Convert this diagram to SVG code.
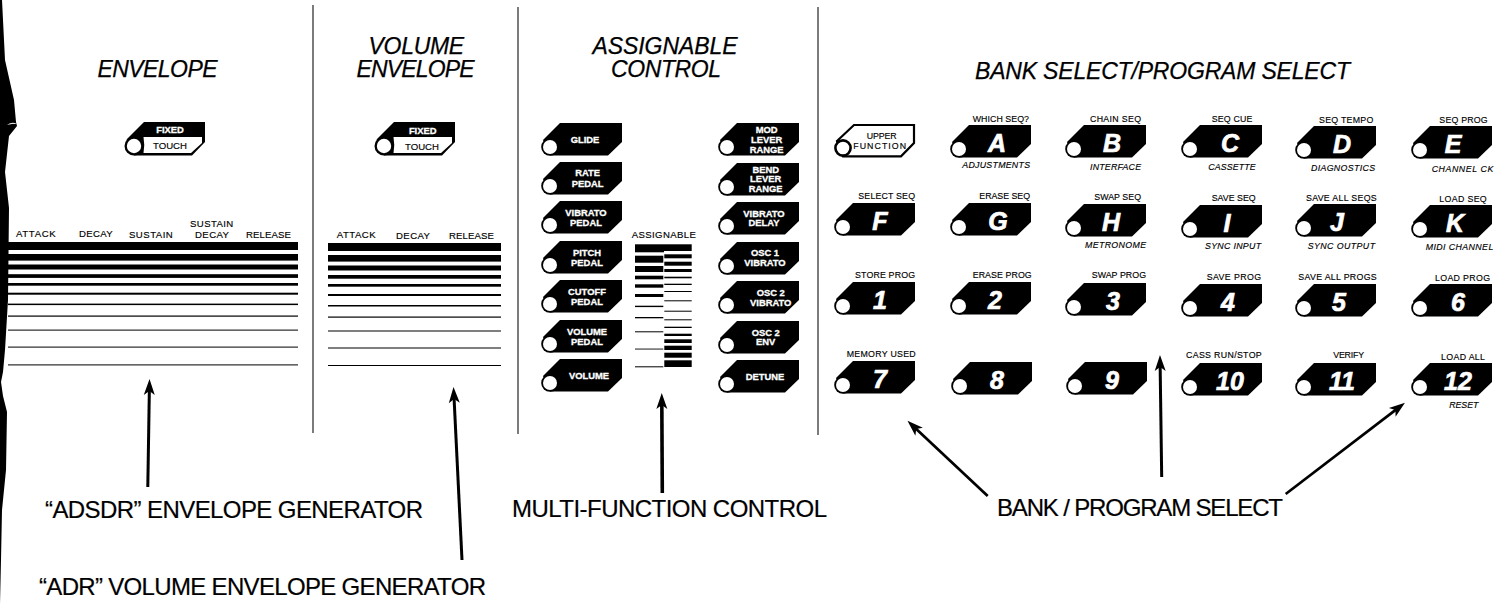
<svg xmlns="http://www.w3.org/2000/svg" width="1507" height="604" viewBox="0 0 1507 604">
<style>
text{font-family:"Liberation Sans",Arial,sans-serif;fill:#000}
.h{font-size:23px;font-style:italic;stroke:#000;stroke-width:.25}
.c{font-size:24px;stroke:#000;stroke-width:.2}
.s{font-size:8.8px;stroke:#000;stroke-width:.15}
.si{font-size:8.8px;font-style:italic;stroke:#000;stroke-width:.15}
.e{font-size:9.6px;stroke:#000;stroke-width:.15}
.big{font-size:25px;font-weight:bold;font-style:italic;fill:#fff;stroke:#fff;stroke-width:.7;text-anchor:middle}
.w{font-size:9.4px;font-weight:bold;fill:#fff;stroke:#fff;stroke-width:.3;text-anchor:middle}
.b{fill:#000}
.div{stroke:#111;stroke-width:1.1;fill:none}
.arr{stroke:#000;fill:none;marker-end:url(#head)}
</style>
<defs>
<marker id="head" markerUnits="userSpaceOnUse" markerWidth="20" markerHeight="14" refX="9" refY="7" orient="auto">
<path d="M1,1.5L17,7L1,12.5L5,7Z" fill="#000"/>
</marker>
<g id="tag">
<path class="b" d="M-7,-7L10,-24L72,-24L72,-5L58,8.6L0,8.6Z"/>
<circle r="8.8" class="b"/><circle r="7" fill="#fff"/>
</g>
<g id="fixed">
<path class="b" d="M-7,-7L10,-24L71,-24L71,-4L58,9.5L0,9.5Z"/>
<circle r="9.5" class="b"/>
<path fill="#fff" d="M9.5,-9L68,-9L68,-3L57,7L9.5,7Q11,-1 9.5,-9Z"/>
<circle r="7.2" fill="#fff"/>
</g>
<g id="open">
<path d="M-6,-7L11,-23L71,-23L71,-5L58,8.3L0,8.3Z" fill="#fff" stroke="#000" stroke-width="2.2"/>
<circle r="7.6" fill="#fff" stroke="#000" stroke-width="2.6"/>
</g>
</defs>
<rect width="1507" height="604" fill="#fff"/>
<g id="edge">
<path class="b" d="M0,0L2,0L5,60L14,100L16,122L17,126L9,136L5,172L9,208L8,300L5,350L3,372L1,382L3,396L7,412L6,470L2,510L1,560L0,604Z"/>
<path d="M7,125Q12,121 17,124L12,124Z" fill="#ddd"/>
</g>
<g id="dividers">
<path class="div" d="M313,5V433M518,7V434M818,7V435"/>
</g>
<g id="headings">
<text class="h" x="97.5" y="77" textLength="120">ENVELOPE</text>
<text class="h" x="368.6" y="54" textLength="95.5">VOLUME</text>
<text class="h" x="356.6" y="77" textLength="118">ENVELOPE</text>
<text class="h" x="592.5" y="54" textLength="145">ASSIGNABLE</text>
<text class="h" x="611" y="77" textLength="110">CONTROL</text>
<text class="h" x="975" y="79" textLength="375">BANK SELECT/PROGRAM SELECT</text>
</g>
<g id="envelope-fixed-touch">
<use href="#fixed" x="134" y="146"/>
<text class="w" x="170" y="133.3">FIXED</text>
<text class="e" x="153" y="149" textLength="34">TOUCH</text>
</g>
<g id="volume-fixed-touch">
<use href="#fixed" x="384" y="146"/>
<text class="w" x="422.7" y="133.7">FIXED</text>
<text class="e" x="405" y="150" textLength="34">TOUCH</text>
</g>
<g id="envelope-sliders">
<text class="e" x="16" y="236.7" textLength="39.7">ATTACK</text>
<text class="e" x="79" y="237" textLength="33.7">DECAY</text>
<text class="e" x="129" y="237.6" textLength="43.7">SUSTAIN</text>
<text class="e" x="190" y="227" textLength="43.3">SUSTAIN</text>
<text class="e" x="195" y="238" textLength="34">DECAY</text>
<text class="e" x="246" y="238" textLength="45">RELEASE</text>
<rect class="b" x="8" y="242" width="290" height="8"/>
<rect class="b" x="8" y="254" width="290" height="6.6"/>
<rect class="b" x="8" y="264.5" width="290" height="5"/>
<rect class="b" x="8" y="274.2" width="290" height="3.7"/>
<rect class="b" x="8" y="283" width="290" height="2.7"/>
<rect class="b" x="8" y="292.7" width="290" height="2"/>
<rect class="b" x="8" y="303.6" width="290" height="1.5"/>
<rect class="b" x="8" y="315.5" width="290" height="1.2"/>
<rect class="b" x="8" y="329.6" width="290" height="1"/>
<rect class="b" x="8" y="346.6" width="290" height="1"/>
<rect class="b" x="8" y="364.4" width="290" height="1"/>
</g>
<g id="volume-sliders">
<text class="e" x="336.7" y="238" textLength="39">ATTACK</text>
<text class="e" x="396" y="239" textLength="34">DECAY</text>
<text class="e" x="449" y="239" textLength="45">RELEASE</text>
<rect class="b" x="328" y="243" width="173" height="8"/>
<rect class="b" x="328" y="255" width="173" height="6.6"/>
<rect class="b" x="328" y="265.5" width="173" height="5"/>
<rect class="b" x="328" y="275" width="173" height="3.7"/>
<rect class="b" x="328" y="284" width="173" height="2.7"/>
<rect class="b" x="328" y="294" width="173" height="2"/>
<rect class="b" x="328" y="305" width="173" height="1.5"/>
<rect class="b" x="328" y="316.5" width="173" height="1.2"/>
<rect class="b" x="328" y="330.5" width="173" height="1"/>
<rect class="b" x="328" y="347.5" width="173" height="1"/>
<rect class="b" x="328" y="365" width="173" height="1"/>
</g>
<g id="assignable-sliders">
<text class="e" x="631.7" y="238.3" textLength="64.3">ASSIGNABLE</text>
<g class="b">
<rect x="635" y="244.3" width="29" height="8"/><rect x="635" y="255.7" width="28.3" height="7"/><rect x="635" y="266" width="28.3" height="6"/><rect x="635" y="275.7" width="28.3" height="3.6"/><rect x="635" y="284.3" width="28.3" height="3.4"/><rect x="635" y="294" width="28.3" height="3"/><rect x="635" y="305.7" width="28.3" height="1.4"/><rect x="635" y="317" width="28.3" height="1.3"/><rect x="635" y="331.3" width="28.3" height="1"/><rect x="635" y="348.6" width="28.3" height=".9"/><rect x="635" y="366.3" width="28.3" height="1"/>
<rect x="664" y="244.3" width="27.7" height="6.7"/><rect x="664.3" y="254.3" width="27.4" height="4"/><rect x="664.3" y="261.7" width="27.4" height="4"/><rect x="664.3" y="269" width="27.4" height="3"/><rect x="664.3" y="276.7" width="27.4" height="1.6"/><rect x="664.3" y="283.7" width="27.4" height="1.3"/><rect x="664.3" y="291" width="27.4" height="1"/><rect x="664.3" y="300.3" width="27.4" height="1"/><rect x="664.3" y="310.7" width="27.4" height="1"/><rect x="664.3" y="319.3" width="27.4" height="1"/><rect x="664.3" y="326.7" width="27.4" height="1.3"/><rect x="664.3" y="333.7" width="27.4" height="2.3"/><rect x="664.3" y="339.3" width="27.4" height="3.7"/><rect x="664.3" y="345.7" width="27.4" height="4.3"/><rect x="664.3" y="352.7" width="27.4" height="5"/><rect x="664.3" y="360.3" width="27.4" height="6.7"/>
</g>
</g>
<g id="glide"><use href="#tag" x="550" y="147"/><text class="w" x="585" y="142.7">GLIDE</text></g>
<g id="rate-pedal"><use href="#tag" x="550" y="186"/><text class="w" x="587.7" y="176">RATE</text><text class="w" x="587.7" y="186.7">PEDAL</text></g>
<g id="vibrato-pedal"><use href="#tag" x="550" y="225"/><text class="w" x="586" y="215.7">VIBRATO</text><text class="w" x="586" y="225.7">PEDAL</text></g>
<g id="pitch-pedal"><use href="#tag" x="550" y="265"/><text class="w" x="587" y="255.7">PITCH</text><text class="w" x="587" y="265.7">PEDAL</text></g>
<g id="cutoff-pedal"><use href="#tag" x="550" y="304"/><text class="w" x="587" y="295">CUTOFF</text><text class="w" x="587" y="305">PEDAL</text></g>
<g id="volume-pedal"><use href="#tag" x="550" y="344"/><text class="w" x="587" y="335">VOLUME</text><text class="w" x="587" y="345">PEDAL</text></g>
<g id="volume"><use href="#tag" x="550" y="383"/><text class="w" x="589" y="379.3">VOLUME</text></g>
<g id="mod-lever-range"><use href="#tag" x="727" y="147"/><text class="w" x="766.7" y="132.7">MOD</text><text class="w" x="766.7" y="142.7">LEVER</text><text class="w" x="766.7" y="153.3">RANGE</text></g>
<g id="bend-lever-range"><use href="#tag" x="727" y="187"/><text class="w" x="765.7" y="172.7">BEND</text><text class="w" x="765.7" y="182.3">LEVER</text><text class="w" x="765.7" y="192.3">RANGE</text></g>
<g id="vibrato-delay"><use href="#tag" x="727" y="226"/><text class="w" x="764" y="216.7">VIBRATO</text><text class="w" x="764" y="226">DELAY</text></g>
<g id="osc1-vibrato"><use href="#tag" x="727" y="266"/><text class="w" x="765" y="256">OSC 1</text><text class="w" x="765" y="266">VIBRATO</text></g>
<g id="osc2-vibrato"><use href="#tag" x="727" y="305"/><text class="w" x="770.7" y="295.7">OSC 2</text><text class="w" x="770.7" y="305.7">VIBRATO</text></g>
<g id="osc2-env"><use href="#tag" x="727" y="345"/><text class="w" x="765.7" y="335.7">OSC 2</text><text class="w" x="765.7" y="345.3">ENV</text></g>
<g id="detune"><use href="#tag" x="727" y="384"/><text class="w" x="765" y="380">DETUNE</text></g>
<g id="upper-function"><use href="#open" x="843" y="148"/><text class="s" x="866.7" y="139" textLength="30">UPPER</text><text class="s" x="853.3" y="149" textLength="52.7">FUNCTION</text></g>
<g id="btn-A"><use href="#tag" x="959" y="149"/><text class="big" x="997" y="152">A</text><text class="s" x="972.7" y="121.5" textLength="56.3">WHICH SEQ?</text><text class="si" x="962.3" y="168" textLength="67.7">ADJUSTMENTS</text></g>
<g id="btn-B"><use href="#tag" x="1074" y="149"/><text class="big" x="1112" y="152">B</text><text class="s" x="1090" y="121.5" textLength="51">CHAIN SEQ</text><text class="si" x="1090" y="169.5" textLength="51">INTERFACE</text></g>
<g id="btn-C"><use href="#tag" x="1190" y="149"/><text class="big" x="1230" y="152">C</text><text class="s" x="1211.7" y="122" textLength="40.6">SEQ CUE</text><text class="si" x="1208.3" y="170" textLength="47.4">CASSETTE</text></g>
<g id="btn-D"><use href="#tag" x="1304" y="150"/><text class="big" x="1342" y="153">D</text><text class="s" x="1319" y="122.5" textLength="54.3">SEQ TEMPO</text><text class="si" x="1311" y="170.5" textLength="64">DIAGNOSTICS</text></g>
<g id="btn-E"><use href="#tag" x="1420" y="150"/><text class="big" x="1453" y="153">E</text><text class="s" x="1439.3" y="123" textLength="48.4">SEQ PROG</text><text class="si" x="1431.7" y="171.5" textLength="61.6">CHANNEL CK</text></g>
<g id="btn-F"><use href="#tag" x="843" y="227"/><text class="big" x="880" y="230">F</text><text class="s" x="858.3" y="199" textLength="56.7">SELECT SEQ</text></g>
<g id="btn-G"><use href="#tag" x="959" y="227"/><text class="big" x="998" y="230">G</text><text class="s" x="979.3" y="199" textLength="50.7">ERASE SEQ</text></g>
<g id="btn-H"><use href="#tag" x="1074" y="228"/><text class="big" x="1111" y="231">H</text><text class="s" x="1094.3" y="200" textLength="46.7">SWAP SEQ</text><text class="si" x="1085" y="248.3" textLength="61">METRONOME</text></g>
<g id="btn-I"><use href="#tag" x="1190" y="229"/><text class="big" x="1227" y="232">I</text><text class="s" x="1211.7" y="200.7" textLength="44">SAVE SEQ</text><text class="si" x="1205" y="249" textLength="56">SYNC INPUT</text></g>
<g id="btn-J"><use href="#tag" x="1304" y="228"/><text class="big" x="1337" y="231">J</text><text class="s" x="1306" y="201" textLength="70.7">SAVE ALL SEQS</text><text class="si" x="1307.7" y="249" textLength="67.3">SYNC OUTPUT</text></g>
<g id="btn-K"><use href="#tag" x="1420" y="229"/><text class="big" x="1455" y="232">K</text><text class="s" x="1439.3" y="201.5" textLength="47.4">LOAD SEQ</text><text class="si" x="1425.7" y="250" textLength="67.6">MIDI CHANNEL</text></g>
<g id="btn-1"><use href="#tag" x="843" y="306"/><text class="big" x="880" y="309">1</text><text class="s" x="855" y="277.7" textLength="60">STORE PROG</text></g>
<g id="btn-2"><use href="#tag" x="959" y="306"/><text class="big" x="995" y="309">2</text><text class="s" x="972.7" y="278" textLength="59">ERASE PROG</text></g>
<g id="btn-3"><use href="#tag" x="1074" y="307"/><text class="big" x="1113" y="310">3</text><text class="s" x="1091.7" y="278" textLength="54.3">SWAP PROG</text></g>
<g id="btn-4"><use href="#tag" x="1190" y="308"/><text class="big" x="1228" y="311">4</text><text class="s" x="1206.7" y="280" textLength="54.3">SAVE PROG</text></g>
<g id="btn-5"><use href="#tag" x="1304" y="308"/><text class="big" x="1339" y="311">5</text><text class="s" x="1298.3" y="280" textLength="78.4">SAVE ALL PROGS</text></g>
<g id="btn-6"><use href="#tag" x="1420" y="308"/><text class="big" x="1458" y="311">6</text><text class="s" x="1435" y="280.5" textLength="55">LOAD PROG</text></g>
<g id="btn-7"><use href="#tag" x="843" y="385"/><text class="big" x="880" y="388">7</text><text class="s" x="846.7" y="357.3" textLength="69">MEMORY USED</text></g>
<g id="btn-8"><use href="#tag" x="960" y="386"/><text class="big" x="997" y="389">8</text></g>
<g id="btn-9"><use href="#tag" x="1075" y="386"/><text class="big" x="1112" y="389">9</text></g>
<g id="btn-10"><use href="#tag" x="1190" y="387"/><text class="big" x="1230" y="390">10</text><text class="s" x="1186" y="358.3" textLength="75.7">CASS RUN/STOP</text></g>
<g id="btn-11"><use href="#tag" x="1304" y="387"/><text class="big" x="1342" y="390">11</text><text class="s" x="1333.3" y="358.3" textLength="30.7">VERIFY</text></g>
<g id="btn-12"><use href="#tag" x="1420" y="387"/><text class="big" x="1458" y="390">12</text><text class="s" x="1441" y="360" textLength="44">LOAD ALL</text><text class="si" x="1449.3" y="407.7" textLength="29">RESET</text></g>
<g id="connectors">
<path class="arr" stroke-width="3" d="M147.8,487L149.4,387"/>
<path class="arr" stroke-width="3" d="M462,560L453.9,395"/>
<path class="arr" stroke-width="3.6" d="M662.3,493L661.8,401"/>
<path class="arr" stroke-width="2.7" d="M987.7,496L913.3,426.2"/>
<path class="arr" stroke-width="3" d="M1161.7,477L1160.1,363"/>
<path class="arr" stroke-width="2.7" d="M1285.7,494L1398.6,407.6"/>
</g>
<g id="captions">
<text class="c" x="45" y="517.5" textLength="378">“ADSDR” ENVELOPE GENERATOR</text>
<text class="c" x="39" y="595" textLength="447">“ADR” VOLUME ENVELOPE GENERATOR</text>
<text class="c" x="512" y="517" textLength="315">MULTI-FUNCTION CONTROL</text>
<text class="c" x="997" y="516" textLength="286">BANK / PROGRAM SELECT</text>
</g>
</svg>
